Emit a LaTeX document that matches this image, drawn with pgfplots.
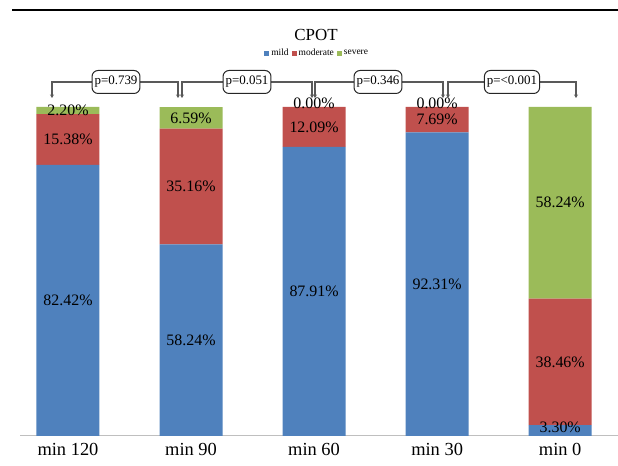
\documentclass[border=0pt]{standalone}
\usepackage{fontspec}
\setmainfont{Liberation Serif}
\usepackage{pgfplots}
\pgfplotsset{compat=1.18}
\usetikzlibrary{arrows.meta}
\definecolor{cblue}{HTML}{4F81BD}
\definecolor{cred}{HTML}{C0504D}
\definecolor{cgreen}{HTML}{9BBB59}
\definecolor{cline}{HTML}{595959}

\pgfplotsset{
  base/.style={
    scale only axis, width=598bp, height=329bp,
    at={(20bp,30bp)}, anchor=south west,
    xmin=-0.39, xmax=4.47, ymin=0, ymax=100,
    clip=false,
  },
}
\tikzset{
  pbox/.style={draw=black!85, line width=1bp, fill=white, rounded corners=6bp,
    font=\fontsize{13}{15}\selectfont, inner xsep=2.5bp, minimum height=23bp},
  pline/.style={cline, line width=1.3bp},
  parr/.style={-{Stealth[length=3.5bp,width=4bp]}},
}

\begin{document}
\begin{tikzpicture}
\useasboundingbox (0,0) rectangle (618bp,466bp);
\draw[line width=1.3bp] (12bp,456bp) -- (618bp,456bp);
\node[font=\fontsize{17}{20}\selectfont] at (316bp,431bp) {CPOT};

\begin{axis}[base,
  ybar stacked, bar width=63bp,
  axis x line*=bottom, axis y line=none,
  x axis line style={draw=black!25, line width=1bp, -},
  xtick={0,1,2,3,4},
  xticklabels={min 120, min 90, min 60, min 30, min 0},
  major tick length=0pt,
  xticklabel style={font=\fontsize{18.5}{21}\selectfont, yshift=-4bp},
  legend style={at={(0.497,1.164)}, anchor=center, draw=none,
    font=\fontsize{9.5}{11}\selectfont, legend columns=3,
    /tikz/every even column/.append style={column sep=1bp},
    inner sep=0pt},
  legend image code/.code={\fill[#1] (0bp,-2.5bp) rectangle (5bp,2.5bp);},
]
\addplot[fill=cblue, draw=none] coordinates {(0,82.42) (1,58.24) (2,87.91) (3,92.31) (4,3.30)};
\addplot[fill=cred, draw=none] coordinates {(0,15.38) (1,35.16) (2,12.09) (3,7.69) (4,38.46)};
\addplot[fill=cgreen, draw=none] coordinates {(0,2.20) (1,6.59) (2,0) (3,0) (4,58.24)};
\legend{mild, moderate, severe}
\end{axis}

% value labels, placed at the middle of each segment
\begin{axis}[base, hide axis]
\addplot[only marks, mark=*, mark size=0pt, mark options={draw=none, fill=none},
  point meta=explicit symbolic, nodes near coords,
  every node near coord/.append style={anchor=center, font=\fontsize{16}{18}\selectfont, inner sep=0pt}]
  coordinates {
    (0,41.21) [82.42\%] (0,90.11) [15.38\%] (0,98.90) [2.20\%]
    (1,29.12) [58.24\%] (1,75.82) [35.16\%] (1,96.70) [6.59\%]
    (2,43.96) [87.91\%] (2,93.96) [12.09\%] (2,101.0) [0.00\%]
    (3,46.16) [92.31\%] (3,96.16) [7.69\%] (3,101.0) [0.00\%]
    (4,2.6) [3.30\%] (4,22.53) [38.46\%] (4,70.88) [58.24\%]
  };
\end{axis}

% p-value brackets
\draw[pline, parr] (116bp,384bp) -| (52bp,368bp);
\draw[pline, parr] (116bp,384bp) -| (178bp,368bp);
\node[pbox] at (116bp,384bp) {p=0.739};

\draw[pline, parr] (247bp,384bp) -| (182bp,368bp);
\draw[pline, parr] (247bp,384bp) -| (312bp,368bp);
\node[pbox] at (247bp,384bp) {p=0.051};

\draw[pline, parr] (378bp,384bp) -| (315bp,368bp);
\draw[pline, parr] (378bp,384bp) -| (443bp,368bp);
\node[pbox] at (378bp,384bp) {p=0.346};

\draw[pline, parr] (512bp,384bp) -| (448bp,368bp);
\draw[pline, parr] (512bp,384bp) -| (576bp,368bp);
\node[pbox] at (512bp,384bp) {p=<0.001};
\end{tikzpicture}
\end{document}
